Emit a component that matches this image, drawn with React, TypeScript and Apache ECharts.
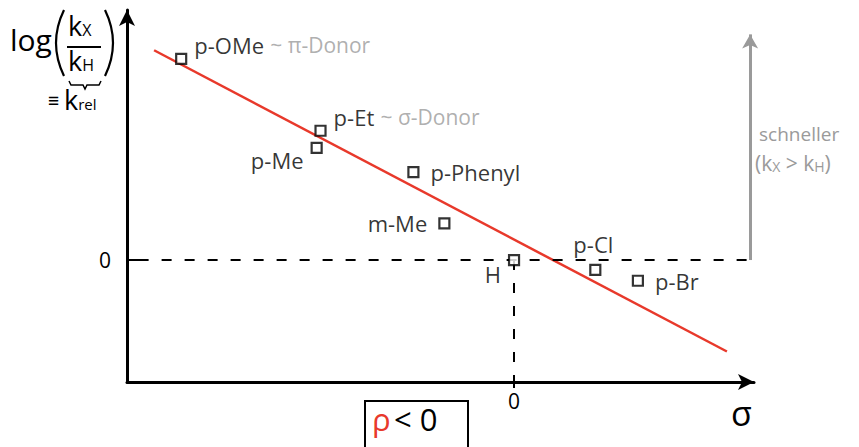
import React, { useEffect, useRef } from "react";
import * as echarts from "echarts";

// Hammett plot: substituent constant σ vs. log(kX/kH)
const substituents = ["p-OMe", "p-Et", "p-Me", "p-Phenyl", "m-Me", "H", "p-Cl", "p-Br"];
const sigmaValues = [-0.86, -0.5, -0.51, -0.26, -0.18, 0, 0.21, 0.32];
const logKrel = [1.65, 1.06, 0.92, 0.72, 0.3, 0, -0.08, -0.17];
const notes = ["~ π-Donor", "~ σ-Donor", "", "", "", "", "", ""];

// regression line end points (σ, log krel)
const fitSigma = [-0.93, 0.55];
const fitLog = [1.72, -0.75];

const xTicks = [0];
const yTicks = [0];

const FONT = "'Open Sans', 'Noto Sans', sans-serif";

// label placement per substituent
const labelPlacement: Record<string, { position: string; offset: number[] }> = {
  "p-OMe": { position: "right", offset: [2, -14] },
  "p-Et": { position: "right", offset: [2, -14] },
  "p-Me": { position: "left", offset: [-2, 12] },
  "p-Phenyl": { position: "right", offset: [6, 0] },
  "m-Me": { position: "left", offset: [-6, 0] },
  H: { position: "left", offset: [-2, 14] },
  "p-Cl": { position: "top", offset: [-2, -4] },
  "p-Br": { position: "right", offset: [6, 0] },
};

export default function App() {
  const ref = useRef<HTMLDivElement>(null);

  useEffect(() => {
    if (!ref.current) return;
    document.body.style.margin = "0";
    const chart = echarts.init(ref.current, null, { renderer: "svg" });

    const points = substituents.map((name, i) => ({
      name,
      value: [sigmaValues[i], logKrel[i]],
      label: {
        show: true,
        position: labelPlacement[name].position,
        offset: labelPlacement[name].offset,
        formatter: notes[i] ? `{b|${name}}  {g|${notes[i]}}` : `{b|${name}}`,
      },
    }));

    chart.setOption({
      animation: false,
      backgroundColor: "#fff",
      grid: { left: 127, right: 105, top: 10, bottom: 65 },
      xAxis: {
        type: "value",
        min: -1,
        max: 0.62,
        splitLine: { show: false },
        axisLine: {
          onZero: false,
          symbol: ["none", "arrow"],
          symbolSize: [12, 16],
          lineStyle: { color: "#000", width: 3 },
        },
        axisTick: {
          show: true,
          customValues: xTicks,
          length: 6,
          lineStyle: { color: "#000", width: 2 },
        },
        axisLabel: {
          show: true,
          customValues: xTicks,
          formatter: (v: number) => String(v),
          color: "#000",
          fontSize: 21,
          fontFamily: FONT,
          margin: 8,
        },
      },
      yAxis: {
        type: "value",
        min: -1,
        max: 2.05,
        splitLine: { show: false },
        axisLine: {
          onZero: false,
          symbol: ["none", "arrow"],
          symbolSize: [12, 16],
          lineStyle: { color: "#000", width: 3 },
        },
        axisTick: {
          show: true,
          inside: true,
          customValues: yTicks,
          length: 12,
          lineStyle: { color: "#000", width: 2 },
        },
        axisLabel: {
          show: true,
          customValues: yTicks,
          formatter: (v: number) => String(v),
          color: "#000",
          fontSize: 21,
          fontFamily: FONT,
          margin: 16,
        },
      },
      series: [
        {
          type: "line",
          data: fitSigma.map((s, i) => [s, fitLog[i]]),
          showSymbol: false,
          symbol: "none",
          lineStyle: { color: "#e8392b", width: 2.5 },
          z: 3,
          markLine: {
            silent: true,
            symbol: ["none", "none"],
            label: { show: false },
            lineStyle: { color: "#000", width: 2, type: [10, 13] },
            data: [
              [{ coord: [-0.97, 0] }, { coord: [0.62, 0] }],
              [{ coord: [0, 0] }, { coord: [0, -1] }],
              [
                {
                  coord: [0.61, 0],
                  lineStyle: { color: "#9a9a9a", width: 3, type: "solid" },
                },
                { coord: [0.61, 1.85], symbol: "arrow", symbolSize: [12, 14] },
              ],
            ],
          },
        },
        {
          type: "scatter",
          data: points,
          symbol: "rect",
          symbolSize: 10,
          itemStyle: { color: "#fff", borderColor: "#000", borderWidth: 2.2 },
          z: 5,
          label: {
            color: "#000",
            fontFamily: FONT,
            rich: {
              b: { fontSize: 22, color: "#000", fontFamily: FONT, fontWeight: 500 },
              g: { fontSize: 21, color: "#9a9a9a", fontFamily: FONT },
            },
          },
        },
      ],
      graphic: [
        // y-axis title: log(kX / kH)
        {
          type: "text",
          left: 10,
          top: 24,
          style: { text: "log", fontSize: 30, fontFamily: FONT, fill: "#000" },
        },
        // tall brackets around the fraction
        {
          type: "bezierCurve",
          shape: { x1: 64, y1: 10, x2: 64, y2: 76, cpx1: 48, cpy1: 43 },
          style: { stroke: "#000", lineWidth: 2.2, fill: "none" },
        },
        {
          type: "bezierCurve",
          shape: { x1: 105, y1: 10, x2: 105, y2: 76, cpx1: 121, cpy1: 43 },
          style: { stroke: "#000", lineWidth: 2.2, fill: "none" },
        },
        {
          type: "text",
          left: 68,
          top: 12,
          style: {
            text: "{k|k}{s|X}",
            rich: {
              k: { fontSize: 27, fontFamily: FONT, fill: "#000" },
              s: { fontSize: 16, fontFamily: FONT, fill: "#000", padding: [8, 0, 0, 0] },
            },
          },
        },
        {
          type: "line",
          shape: { x1: 67, y1: 47, x2: 101, y2: 47 },
          style: { stroke: "#000", lineWidth: 2 },
        },
        {
          type: "text",
          left: 68,
          top: 47,
          style: {
            text: "{k|k}{s|H}",
            rich: {
              k: { fontSize: 27, fontFamily: FONT, fill: "#000" },
              s: { fontSize: 16, fontFamily: FONT, fill: "#000", padding: [8, 0, 0, 0] },
            },
          },
        },
        // underbrace below kH
        {
          type: "polyline",
          shape: {
            points: [
              [69, 81],
              [71, 85],
              [83, 85],
              [85, 89],
              [87, 85],
              [99, 85],
              [101, 81],
            ],
          },
          style: { stroke: "#000", lineWidth: 1.5, fill: "none" },
        },
        {
          type: "text",
          left: 48,
          top: 86,
          style: {
            text: "{e|≡ }{k|k}{s|rel}",
            rich: {
              e: { fontSize: 19, fontFamily: FONT, fill: "#000" },
              k: { fontSize: 27, fontFamily: FONT, fill: "#000" },
              s: { fontSize: 15, fontFamily: FONT, fill: "#000", padding: [8, 0, 0, 0] },
            },
          },
        },
        // x-axis title
        {
          type: "text",
          left: 731,
          top: 396,
          style: { text: "σ", fontSize: 34, fontFamily: FONT, fill: "#000" },
        },
        // reaction constant box
        {
          type: "rect",
          shape: { x: 365, y: 401, width: 103, height: 52 },
          style: { fill: "none", stroke: "#000", lineWidth: 2 },
        },
        {
          type: "text",
          left: 372,
          top: 403,
          style: {
            text: "{r|ρ} {b|< 0}",
            rich: {
              r: { fontSize: 31, fontFamily: FONT, fill: "#e8392b" },
              b: { fontSize: 31, fontFamily: FONT, fill: "#000" },
            },
          },
        },
        // faster-reaction annotation
        {
          type: "text",
          left: 759,
          top: 124,
          style: { text: "schneller", fontSize: 19, fontFamily: FONT, fill: "#9a9a9a" },
        },
        {
          type: "text",
          left: 755,
          top: 152,
          style: {
            text: "{t|(k}{s|X}{t| > k}{s|H}{t|)}",
            rich: {
              t: { fontSize: 21, fontFamily: FONT, fill: "#9a9a9a" },
              s: { fontSize: 14, fontFamily: FONT, fill: "#9a9a9a", padding: [7, 0, 0, 0] },
            },
          },
        },
      ],
    });

    return () => chart.dispose();
  }, []);

  return <div ref={ref} style={{ width: 859, height: 447 }} />;
}
